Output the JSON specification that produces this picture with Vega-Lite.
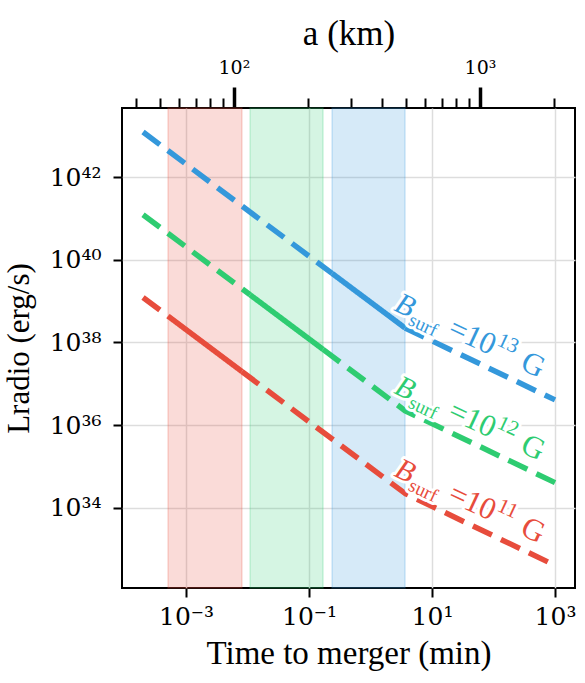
{
  "$schema": "https://vega.github.io/schema/vega-lite/v6.json",
  "width": 453,
  "height": 480,
  "autosize": {"type": "none"},
  "padding": {"left": 122, "top": 108, "right": 10, "bottom": 95},
  "background": "white",
  "config": {
    "view": {"stroke": "black", "strokeWidth": 2},
    "font": "Liberation Serif",
    "axis": {"domain": false, "labelFont": "DejaVu Serif", "titleFont": "Liberation Serif", "titleFontWeight": "normal", "labelColor": "black", "titleColor": "black", "tickColor": "black"},
    "text": {"font": "Liberation Serif", "angle": 25, "align": "left", "baseline": "alphabetic"}
  },
  "datasets": {
    "bands": [
      {"B": "11", "t": 0.00051, "t2": 0.0081},
      {"B": "12", "t": 0.011, "t2": 0.169},
      {"B": "13", "t": 0.237, "t2": 3.64}
    ],
    "lines": [
      {"B": "13", "seg": "a", "style": "dashed", "t": 0.0002, "L": 1.2246e43},
      {"B": "13", "seg": "a", "style": "dashed", "t": 0.237, "L": 4.688e39},
      {"B": "13", "seg": "b", "style": "solid", "t": 0.237, "L": 4.688e39},
      {"B": "13", "seg": "b", "style": "solid", "t": 3.64, "L": 2.244e38},
      {"B": "13", "seg": "c", "style": "dashed", "t": 3.64, "L": 2.244e38},
      {"B": "13", "seg": "c", "style": "dashed", "t": 1000, "L": 4.093e36},
      {"B": "12", "seg": "a", "style": "dashed", "t": 0.0002, "L": 1.2246e41},
      {"B": "12", "seg": "a", "style": "dashed", "t": 0.011, "L": 1.422e39},
      {"B": "12", "seg": "b", "style": "solid", "t": 0.011, "L": 1.422e39},
      {"B": "12", "seg": "b", "style": "solid", "t": 0.169, "L": 6.808e37},
      {"B": "12", "seg": "c", "style": "dashed", "t": 0.169, "L": 6.808e37},
      {"B": "12", "seg": "c", "style": "dashed", "t": 3.64, "L": 2.244e36},
      {"B": "12", "seg": "c", "style": "dashed", "t": 1000, "L": 4.093e34},
      {"B": "11", "seg": "a", "style": "dashed", "t": 0.0002, "L": 1.2246e39},
      {"B": "11", "seg": "a", "style": "dashed", "t": 0.00051, "L": 4.335e38},
      {"B": "11", "seg": "b", "style": "solid", "t": 0.00051, "L": 4.335e38},
      {"B": "11", "seg": "b", "style": "solid", "t": 0.0081, "L": 1.986e37},
      {"B": "11", "seg": "c", "style": "dashed", "t": 0.0081, "L": 1.986e37},
      {"B": "11", "seg": "c", "style": "dashed", "t": 3.64, "L": 2.244e34},
      {"B": "11", "seg": "c", "style": "dashed", "t": 1000, "L": 4.093e32}
    ],
    "labels": [
      {"B": "13", "t": 2.32, "L": 6.1e38, "exp": "13"},
      {"B": "12", "t": 2.32, "L": 6.1e36, "exp": "12"},
      {"B": "11", "t": 2.32, "L": 6.1e34, "exp": "11"}
    ],
    "atop": [{"a": 100}]
  },
  "resolve": {"scale": {"x": "independent"}},
  "layer": [
    {
      "layer": [
        {
          "data": {"name": "bands"},
          "mark": {"type": "rect", "fillOpacity": 0.2, "strokeOpacity": 0.22, "strokeWidth": 1.5},
          "encoding": {
            "x": {
              "field": "t", "type": "quantitative",
              "scale": {"type": "log", "domain": [0.000091, 2113], "nice": false},
              "axis": {
                "orient": "bottom",
                "values": [0.001, 0.1, 10, 1000],
                "labelExpr": "datum.value < 0.01 ? '10⁻³' : datum.value < 1 ? '10⁻¹' : datum.value < 100 ? '10¹' : '10³'",
                "labelFontSize": 25, "labelPadding": 7,
                "tickSize": 9, "tickWidth": 2,
                "grid": true, "gridColor": "#dddddd", "gridWidth": 1.5,
                "title": "Time to merger (min)", "titleFontSize": 33, "titlePadding": 8
              }
            },
            "x2": {"field": "t2"},
            "color": {"field": "B", "type": "nominal", "scale": {"domain": ["13", "12", "11"], "range": ["#3498db", "#2ecc71", "#e74c3c"]}, "legend": null},
            "stroke": {"field": "B", "type": "nominal", "scale": {"domain": ["13", "12", "11"], "range": ["#3498db", "#2ecc71", "#e74c3c"]}, "legend": null}
          }
        },
        {
          "data": {"name": "lines"},
          "mark": {"type": "line", "strokeWidth": 5.5, "strokeCap": "butt", "strokeJoin": "round"},
          "encoding": {
            "x": {"field": "t", "type": "quantitative", "scale": {"type": "log", "domain": [0.000091, 2113], "nice": false}},
            "y": {
              "field": "L", "type": "quantitative",
              "scale": {"type": "log", "domain": [1.16e32, 4.66e43], "nice": false},
              "axis": {
                "values": [1e34, 1e36, 1e38, 1e40, 1e42],
                "labelExpr": "datum.value < 1e35 ? '10³⁴' : datum.value < 1e37 ? '10³⁶' : datum.value < 1e39 ? '10³⁸' : datum.value < 1e41 ? '10⁴⁰' : '10⁴²'",
                "labelFontSize": 25, "labelPadding": 12, "labelBaseline": "middle",
                "tickSize": 9, "tickWidth": 2,
                "grid": true, "gridColor": "#dddddd", "gridWidth": 1.5,
                "title": "Lradio (erg/s)", "titleFontSize": 31, "titlePadding": 14
              }
            },
            "color": {"field": "B", "type": "nominal", "scale": {"domain": ["13", "12", "11"], "range": ["#3498db", "#2ecc71", "#e74c3c"]}, "legend": null},
            "strokeDash": {"field": "style", "type": "nominal", "scale": {"domain": ["dashed", "solid"], "range": [[21, 10], [1, 0]]}, "legend": null},
            "detail": {"field": "seg"}
          }
        },
        {
          "data": {"name": "labels"},
          "mark": {"type": "text", "fontSize": 30, "fontStyle": "italic", "fill": "white", "stroke": "white", "strokeWidth": 6, "strokeJoin": "round"},
          "encoding": {
            "x": {"field": "t", "type": "quantitative", "scale": {"type": "log", "domain": [0.000091, 2113], "nice": false}},
            "y": {"field": "L", "type": "quantitative", "scale": {"type": "log", "domain": [1.16e32, 4.66e43], "nice": false}},
            "text": {"value": "B"}
          }
        },
        {
          "data": {"name": "labels"},
          "mark": {"type": "text", "fontSize": 19, "dx": 19, "dy": 7, "fill": "white", "stroke": "white", "strokeWidth": 6, "strokeJoin": "round"},
          "encoding": {
            "x": {"field": "t", "type": "quantitative", "scale": {"type": "log", "domain": [0.000091, 2113], "nice": false}},
            "y": {"field": "L", "type": "quantitative", "scale": {"type": "log", "domain": [1.16e32, 4.66e43], "nice": false}},
            "text": {"value": "surf"}
          }
        },
        {
          "data": {"name": "labels"},
          "mark": {"type": "text", "fontSize": 31, "dx": 59, "fill": "white", "stroke": "white", "strokeWidth": 6, "strokeJoin": "round"},
          "encoding": {
            "x": {"field": "t", "type": "quantitative", "scale": {"type": "log", "domain": [0.000091, 2113], "nice": false}},
            "y": {"field": "L", "type": "quantitative", "scale": {"type": "log", "domain": [1.16e32, 4.66e43], "nice": false}},
            "text": {"value": "=10"}
          }
        },
        {
          "data": {"name": "labels"},
          "mark": {"type": "text", "fontSize": 21, "dx": 108, "dy": -12, "fill": "white", "stroke": "white", "strokeWidth": 6, "strokeJoin": "round"},
          "encoding": {
            "x": {"field": "t", "type": "quantitative", "scale": {"type": "log", "domain": [0.000091, 2113], "nice": false}},
            "y": {"field": "L", "type": "quantitative", "scale": {"type": "log", "domain": [1.16e32, 4.66e43], "nice": false}},
            "text": {"field": "exp"}
          }
        },
        {
          "data": {"name": "labels"},
          "mark": {"type": "text", "fontSize": 31, "dx": 139, "fill": "white", "stroke": "white", "strokeWidth": 6, "strokeJoin": "round"},
          "encoding": {
            "x": {"field": "t", "type": "quantitative", "scale": {"type": "log", "domain": [0.000091, 2113], "nice": false}},
            "y": {"field": "L", "type": "quantitative", "scale": {"type": "log", "domain": [1.16e32, 4.66e43], "nice": false}},
            "text": {"value": "G"}
          }
        },
        {
          "data": {"name": "labels"},
          "mark": {"type": "text", "fontSize": 30, "fontStyle": "italic"},
          "encoding": {
            "x": {"field": "t", "type": "quantitative", "scale": {"type": "log", "domain": [0.000091, 2113], "nice": false}},
            "y": {"field": "L", "type": "quantitative", "scale": {"type": "log", "domain": [1.16e32, 4.66e43], "nice": false}},
            "text": {"value": "B"},
            "color": {"field": "B", "type": "nominal", "scale": {"domain": ["13", "12", "11"], "range": ["#3498db", "#2ecc71", "#e74c3c"]}, "legend": null}
          }
        },
        {
          "data": {"name": "labels"},
          "mark": {"type": "text", "fontSize": 19, "dx": 19, "dy": 7},
          "encoding": {
            "x": {"field": "t", "type": "quantitative", "scale": {"type": "log", "domain": [0.000091, 2113], "nice": false}},
            "y": {"field": "L", "type": "quantitative", "scale": {"type": "log", "domain": [1.16e32, 4.66e43], "nice": false}},
            "text": {"value": "surf"},
            "color": {"field": "B", "type": "nominal", "scale": {"domain": ["13", "12", "11"], "range": ["#3498db", "#2ecc71", "#e74c3c"]}, "legend": null}
          }
        },
        {
          "data": {"name": "labels"},
          "mark": {"type": "text", "fontSize": 31, "dx": 59},
          "encoding": {
            "x": {"field": "t", "type": "quantitative", "scale": {"type": "log", "domain": [0.000091, 2113], "nice": false}},
            "y": {"field": "L", "type": "quantitative", "scale": {"type": "log", "domain": [1.16e32, 4.66e43], "nice": false}},
            "text": {"value": "=10"},
            "color": {"field": "B", "type": "nominal", "scale": {"domain": ["13", "12", "11"], "range": ["#3498db", "#2ecc71", "#e74c3c"]}, "legend": null}
          }
        },
        {
          "data": {"name": "labels"},
          "mark": {"type": "text", "fontSize": 21, "dx": 108, "dy": -12},
          "encoding": {
            "x": {"field": "t", "type": "quantitative", "scale": {"type": "log", "domain": [0.000091, 2113], "nice": false}},
            "y": {"field": "L", "type": "quantitative", "scale": {"type": "log", "domain": [1.16e32, 4.66e43], "nice": false}},
            "text": {"field": "exp"},
            "color": {"field": "B", "type": "nominal", "scale": {"domain": ["13", "12", "11"], "range": ["#3498db", "#2ecc71", "#e74c3c"]}, "legend": null}
          }
        },
        {
          "data": {"name": "labels"},
          "mark": {"type": "text", "fontSize": 31, "dx": 139},
          "encoding": {
            "x": {"field": "t", "type": "quantitative", "scale": {"type": "log", "domain": [0.000091, 2113], "nice": false}},
            "y": {"field": "L", "type": "quantitative", "scale": {"type": "log", "domain": [1.16e32, 4.66e43], "nice": false}},
            "text": {"value": "G"},
            "color": {"field": "B", "type": "nominal", "scale": {"domain": ["13", "12", "11"], "range": ["#3498db", "#2ecc71", "#e74c3c"]}, "legend": null}
          }
        }
      ]
    },
    {
      "data": {"name": "atop"},
      "mark": {"type": "rule", "opacity": 0},
      "encoding": {
        "x": {
          "field": "a", "type": "quantitative",
          "scale": {"type": "log", "domain": [35.1, 2433], "nice": false},
          "axis": {
            "orient": "top",
            "values": [40, 50, 60, 70, 80, 90, 100, 200, 300, 400, 500, 600, 700, 800, 900, 1000, 2000],
            "labelExpr": "datum.value == 100 ? '10²' : datum.value == 1000 ? '10³' : ''",
            "labelFontSize": 19, "labelPadding": 10,
            "tickSize": {"condition": {"test": "datum.value == 100 || datum.value == 1000", "value": 21}, "value": 10},
            "tickWidth": {"condition": {"test": "datum.value == 100 || datum.value == 1000", "value": 3.5}, "value": 2},
            "grid": false,
            "title": "a (km)", "titleFontSize": 35, "titlePadding": 7
          }
        }
      }
    }
  ]
}
